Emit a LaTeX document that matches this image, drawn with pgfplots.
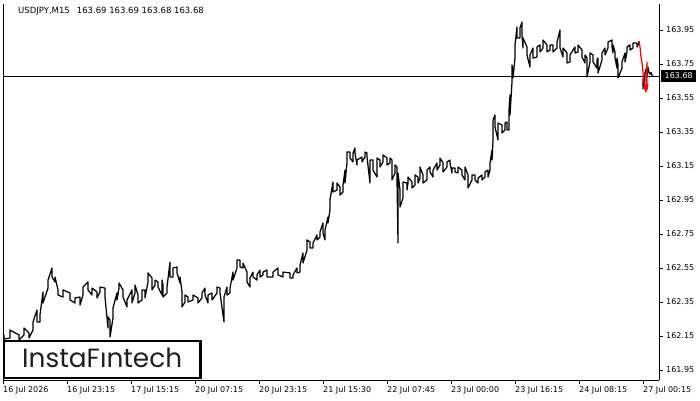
\documentclass[border=0pt]{standalone}
\usepackage{pgfplots}
\pgfplotsset{compat=1.18}
\usepackage{pgfplotstable}
\usepackage{fontspec}
\setmainfont{DejaVu Sans}
\newfontfamily\logofont{Poppins}

\pgfplotstableread{
x y
1 162.156
1 162.132
7 162.138
7 162.185
16 162.156
16 162.126
21 162.156
21 162.197
26 162.168
26 162.138
30 162.185
30 162.232
34 162.303
34 162.232
37 162.232
37 162.274
40 162.409
40 162.344
45 162.432
45 162.479
49 162.550
49 162.497
52 162.468
52 162.497
55 162.421
55 162.391
60 162.379
60 162.421
67 162.403
67 162.362
72 162.344
72 162.374
77 162.379
77 162.332
80 162.391
80 162.438
85 162.468
85 162.421
89 162.391
89 162.432
94 162.409
94 162.374
97 162.409
97 162.438
102 162.432
102 162.379
105 162.197
105 162.262
107 162.244
107 162.144
110 162.256
110 162.315
114 162.403
114 162.362
116 162.432
116 162.462
120 162.421
120 162.379
124 162.321
124 162.362
129 162.421
129 162.344
132 162.403
132 162.450
135 162.391
135 162.344
139 162.362
139 162.421
142 162.421
142 162.374
145 162.468
145 162.521
149 162.491
149 162.421
152 162.450
152 162.479
155 162.468
155 162.438
159 162.391
159 162.479
160 162.450
160 162.379
164 162.403
164 162.438
167 162.585
167 162.497
170 162.497
170 162.550
174 162.556
174 162.521
177 162.462
177 162.497
179 162.409
179 162.321
182 162.350
182 162.391
185 162.379
185 162.350
190 162.362
190 162.391
195 162.374
195 162.344
199 162.374
199 162.403
202 162.432
202 162.391
205 162.344
205 162.391
209 162.403
209 162.362
214 162.403
214 162.438
217 162.432
217 162.403
221 162.232
221 162.379
224 162.438
224 162.391
227 162.403
227 162.432
230 162.526
230 162.479
234 162.550
234 162.597
237 162.597
237 162.556
240 162.550
240 162.579
244 162.526
244 162.468
247 162.438
247 162.491
250 162.526
250 162.497
254 162.479
254 162.509
257 162.538
257 162.497
260 162.509
260 162.526
264 162.538
264 162.497
270 162.497
270 162.526
275 162.550
275 162.509
280 162.497
280 162.526
287 162.521
287 162.491
290 162.491
290 162.509
294 162.550
294 162.521
297 162.526
297 162.568
300 162.638
300 162.579
304 162.656
304 162.715
307 162.703
307 162.668
310 162.668
310 162.697
314 162.744
314 162.715
317 162.732
317 162.762
320 162.815
320 162.756
322 162.715
322 162.774
325 162.850
325 162.815
327 162.891
327 162.950
330 163.056
330 162.997
334 163.009
334 163.050
337 163.026
337 162.979
340 162.997
340 163.038
342 163.126
342 163.050
344 163.168
344 163.232
347 163.232
347 163.197
350 163.174
350 163.226
352 163.256
352 163.226
354 163.156
354 163.185
359 163.203
359 163.174
362 163.203
362 163.232
364 163.226
364 163.203
367 163.050
367 163.185
370 163.185
370 163.126
374 163.085
374 163.197
377 163.185
377 163.144
380 163.174
380 163.215
384 163.197
384 163.156
387 163.168
387 163.197
389 163.185
389 163.068
392 163.109
392 163.156
394 163.144
394 163.068
395 162.697
395 163.109
397 163.009
397 162.909
400 162.962
400 163.056
404 163.050
404 163.009
405 163.050
405 163.085
409 163.056
409 163.021
412 163.038
412 163.097
415 163.085
415 163.050
417 163.079
417 163.144
420 163.097
420 163.050
424 163.068
424 163.126
427 163.144
427 163.115
430 163.085
430 163.126
434 163.168
434 163.126
437 163.156
437 163.197
440 163.168
440 163.115
444 163.144
444 163.174
447 163.185
447 163.168
449 163.109
449 163.138
452 163.138
452 163.115
455 163.109
455 163.144
459 163.126
459 163.097
462 163.068
462 163.144
465 163.097
465 163.021
469 163.068
469 163.097
472 163.097
472 163.068
475 163.050
475 163.079
479 163.097
479 163.068
482 163.085
482 163.115
485 163.126
485 163.085
487 163.126
487 163.168
489 163.244
489 163.185
490 163.303
490 163.421
492 163.450
492 163.379
495 163.303
495 163.403
499 163.391
499 163.344
502 163.362
502 163.403
504 163.409
504 163.362
506 163.362
506 163.479
507 163.568
507 163.450
509 163.644
509 163.744
510 163.703
510 163.668
512 163.785
512 163.862
514 163.968
514 163.903
517 163.903
517 163.962
519 163.997
519 163.921
520 163.844
520 163.903
524 163.850
524 163.803
527 163.732
527 163.803
530 163.844
530 163.785
534 163.791
534 163.850
537 163.862
537 163.821
540 163.844
540 163.891
544 163.862
544 163.821
547 163.832
547 163.862
550 163.862
550 163.821
554 163.844
554 163.879
557 163.950
557 163.844
560 163.791
560 163.844
564 163.815
564 163.756
567 163.762
567 163.803
572 163.850
572 163.815
575 163.821
575 163.862
579 163.832
579 163.791
582 163.756
582 163.803
584 163.785
584 163.674
587 163.762
587 163.815
590 163.803
590 163.762
594 163.726
594 163.774
595 163.785
595 163.697
599 163.774
599 163.815
602 163.844
602 163.803
605 163.844
605 163.879
609 163.891
609 163.850
610 163.815
610 163.862
612 163.821
612 163.785
614 163.726
614 163.785
615 163.744
615 163.668
619 163.726
619 163.762
622 163.815
622 163.762
624 163.821
624 163.850
627 163.862
627 163.832
630 163.844
630 163.874
634 163.874
634 163.850
636 163.874
636 163.885
}\mainseries

\pgfplotstableread{
x y
640 163.600
640 163.660
641 163.620
642 163.700
643 163.720
644 163.680
645 163.730
646 163.700
647 163.690
648 163.700
649 163.685
650 163.680
}\blackend

\pgfplotstableread{
x y
636 163.885
637 163.850
638 163.790
639 163.760
640 163.700
641 163.640
642 163.600
643 163.585
643 163.670
644 163.760
644 163.600
645 163.630
}\redend

\begin{document}
\begin{tikzpicture}[x=1bp,y=1bp]
\begin{axis}[
  at={(0,0)}, anchor=south west,
  scale only axis, width=656bp, height=376bp,
  xmin=0, xmax=656, ymin=161.891, ymax=164.103,
  axis x line*=bottom, axis y line*=right,
  axis line style={line width=0.8bp, -},
  tick align=outside, major tick length=4bp,
  every tick/.style={black, line width=0.8bp},
  xtick={0,64,128,192,256,320,384,448,512,576,640},
  xticklabels={16 Jul 2026,16 Jul 23:15,17 Jul 15:15,20 Jul 07:15,20 Jul 23:15,21 Jul 15:30,22 Jul 07:45,23 Jul 00:00,23 Jul 16:15,24 Jul 08:15,27 Jul 00:15},
  xticklabel style={anchor=base west, inner sep=0pt, font=\fontsize{8bp}{9bp}\selectfont, yshift=-8bp},
  ytick={161.95,162.15,162.35,162.55,162.75,162.95,163.15,163.35,163.55,163.75,163.95},
  yticklabels={161.95,162.15,162.35,162.55,162.75,162.95,163.15,163.35,163.55,163.75,163.95},
  yticklabel style={anchor=west, inner sep=0pt, font=\fontsize{8bp}{9bp}\selectfont, xshift=3bp},
  clip=false,
]
\addplot[black, line width=0.8bp] coordinates {(0,163.68) (656,163.68)};
\addplot[black, line width=1.25bp, line join=round] table[x=x,y=y] {\mainseries};
\addplot[black, line width=1.25bp, line join=round] table[x=x,y=y] {\blackend};
\addplot[red, line width=1.25bp, line join=round] table[x=x,y=y] {\redend};
\node[fill=black, text=white, inner sep=0pt, minimum width=35bp, minimum height=12.5bp, anchor=west, font=\fontsize{8bp}{9bp}\selectfont] at (axis cs:656,163.68) [xshift=2bp] {163.68};
\end{axis}
\draw[line width=0.8bp] (0,0) -- (0,376);
\node[anchor=base west, inner sep=0pt, font=\fontsize{8.5bp}{9bp}\selectfont] at (15,367) {USDJPY,M15\hspace{7bp}163.69 163.69 163.68 163.68};
\draw[line width=2.3bp, fill=white] (1.15,2.15) rectangle (197.55,38.85);
\node[anchor=base west, inner sep=0pt, text=black!88] at (19,13) {\resizebox{160bp}{!}{\logofont InstaFıntech}};
\pgfresetboundingbox
\path (-3,-20) rectangle (697,380);
\end{tikzpicture}
\end{document}
